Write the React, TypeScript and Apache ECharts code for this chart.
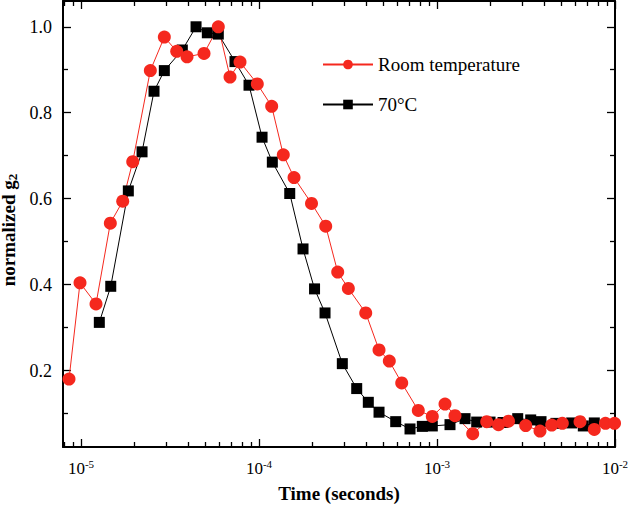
import React, { useEffect, useRef } from "react";
import * as echarts from "echarts";

const FONT = '"Liberation Serif", "Times New Roman", serif';

// Room temperature series
const roomTimes = [
  8.56e-6, 9.87e-6, 1.214e-5, 1.461e-5, 1.715e-5, 1.952e-5, 2.451e-5, 2.938e-5, 3.449e-5, 3.94e-5,
  4.909e-5, 5.906e-5, 6.872e-5, 7.822e-5, 9.78e-5, 1.178e-4, 1.369e-4, 1.573e-4, 1.972e-4, 2.37e-4,
  2.768e-4, 3.176e-4, 3.977e-4, 4.723e-4, 5.395e-4, 6.335e-4, 7.85e-4, 9.41e-4, 1.109e-3, 1.262e-3,
  1.587e-3, 1.902e-3, 2.215e-3, 2.522e-3, 3.15e-3, 3.79e-3, 4.41e-3, 5.06e-3, 6.36e-3, 7.65e-3,
  8.84e-3, 9.94e-3,
];
const roomValues = [
  0.18, 0.404, 0.355, 0.543, 0.594, 0.686, 0.898, 0.976, 0.943, 0.93,
  0.938, 1.0, 0.883, 0.918, 0.867, 0.815, 0.702, 0.649, 0.589, 0.536,
  0.429, 0.391, 0.334, 0.248, 0.222, 0.171, 0.107, 0.093, 0.122, 0.095,
  0.053, 0.081, 0.074, 0.082, 0.072, 0.059, 0.073, 0.077, 0.081, 0.063,
  0.077, 0.077,
];

// 70°C series
const hotTimes = [
  1.267e-5, 1.469e-5, 1.844e-5, 2.202e-5, 2.571e-5, 2.938e-5, 3.708e-5, 4.428e-5, 5.124e-5, 5.906e-5,
  7.33e-5, 8.786e-5, 1.04e-4, 1.188e-4, 1.488e-4, 1.767e-4, 2.051e-4, 2.349e-4, 2.938e-4, 3.539e-4,
  4.112e-4, 4.723e-4, 5.861e-4, 7.052e-4, 8.268e-4, 9.41e-4, 1.183e-3, 1.437e-3, 1.671e-3, 1.986e-3,
  2.349e-3, 2.841e-3, 3.361e-3, 3.84e-3, 4.661e-3, 5.711e-3, 6.636e-3, 7.65e-3,
];
const hotValues = [
  0.312, 0.396, 0.618, 0.709, 0.85, 0.898, 0.946, 1.0, 0.986, 0.983,
  0.919, 0.864, 0.743, 0.685, 0.612, 0.483, 0.39, 0.334, 0.216, 0.158,
  0.126, 0.103, 0.081, 0.064, 0.07, 0.071, 0.074, 0.088, 0.08, 0.08,
  0.079, 0.088, 0.085, 0.081, 0.077, 0.078, 0.071, 0.078,
];

const seriesNames = ["Room temperature", "70°C"];

const X_MIN = 7.92e-6;
const X_MAX = 1e-2;
const Y_MIN = 0.022;
const Y_MAX = 1.06;

const xMajorTicks = [1e-5, 1e-4, 1e-3, 1e-2];
const xMinorTicks = [
  8e-6, 9e-6,
  2e-5, 3e-5, 4e-5, 5e-5, 6e-5, 7e-5, 8e-5, 9e-5,
  2e-4, 3e-4, 4e-4, 5e-4, 6e-4, 7e-4, 8e-4, 9e-4,
  2e-3, 3e-3, 4e-3, 5e-3, 6e-3, 7e-3, 8e-3, 9e-3,
];
const yMajorTicks = [0.2, 0.4, 0.6, 0.8, 1.0];
const yMinorTicks = [0.1, 0.3, 0.5, 0.7, 0.9];

const App: React.FC = () => {
  const ref = useRef<HTMLDivElement>(null);

  useEffect(() => {
    if (!ref.current) return;
    const chart = echarts.init(ref.current, undefined, { renderer: "svg" });

    const lineBlack = { show: true, lineStyle: { color: "#000", width: 2 } };
    const noLine = { show: false };

    const xAxisDef = (
      position: "bottom" | "top",
      ticks: number[],
      len: number,
      showLine: boolean,
      showLabels: boolean
    ): any => ({
      type: "log",
      logBase: 10,
      min: X_MIN,
      max: X_MAX,
      position,
      splitLine: { show: false },
      axisLine: showLine ? lineBlack : noLine,
      axisTick: {
        show: true,
        inside: true,
        length: len,
        customValues: ticks,
        lineStyle: { color: "#000", width: 1.3 },
      },
      axisLabel: showLabels
        ? {
            show: true,
            customValues: xMajorTicks,
            margin: 11,
            formatter: (v: number) => {
              const e = Math.round(Math.log10(v));
              return "{b|10}{s|" + e + "}";
            },
            rich: {
              b: { fontFamily: FONT, fontSize: 17, lineHeight: 20, color: "#000" },
              s: { fontFamily: FONT, fontSize: 11, lineHeight: 12, verticalAlign: "top", color: "#000" },
            },
          }
        : { show: false },
    });

    const yAxisDef = (
      position: "left" | "right",
      ticks: number[],
      len: number,
      showLine: boolean,
      showLabels: boolean
    ): any => ({
      type: "value",
      min: Y_MIN,
      max: Y_MAX,
      position,
      splitLine: { show: false },
      axisLine: showLine ? lineBlack : noLine,
      axisTick: {
        show: true,
        inside: true,
        length: len,
        customValues: ticks,
        lineStyle: { color: "#000", width: 1.3 },
      },
      axisLabel: showLabels
        ? {
            show: true,
            customValues: yMajorTicks,
            margin: 11,
            fontFamily: FONT,
            fontSize: 18,
            color: "#000",
            formatter: (v: number) => v.toFixed(1),
          }
        : { show: false },
    });

    const xMain = xAxisDef("bottom", xMajorTicks, 8, true, true);
    xMain.name = "Time (seconds)";
    xMain.nameLocation = "middle";
    xMain.nameGap = 37;
    xMain.nameTextStyle = { fontFamily: FONT, fontSize: 19, fontWeight: "bold", color: "#000" };

    const yMain = yAxisDef("left", yMajorTicks, 8, true, true);
    yMain.name = "{n|normalized g}{sub|2}";
    yMain.nameLocation = "middle";
    yMain.nameGap = 38;
    yMain.nameTextStyle = {
      fontFamily: FONT,
      fontSize: 19,
      fontWeight: "bold",
      color: "#000",
      padding: [0, 12, 0, 0],
      rich: {
        n: { fontFamily: FONT, fontSize: 19, fontWeight: "bold", lineHeight: 20, color: "#000" },
        sub: { fontFamily: FONT, fontSize: 13, fontWeight: "bold", lineHeight: 12, verticalAlign: "bottom", color: "#000" },
      },
    };

    const option: any = {
      animation: false,
      backgroundColor: "#fff",
      grid: { left: 63, right: 15, top: 1, bottom: 61, containLabel: false, outerBoundsMode: "none" },
      legend: {
        orient: "vertical",
        left: 317,
        top: 50,
        itemWidth: 50,
        itemHeight: 12,
        itemGap: 21,
        data: seriesNames,
        textStyle: { fontFamily: FONT, fontSize: 19, color: "#000" },
      },
      xAxis: [
        xMain,
        xAxisDef("bottom", xMinorTicks, 5, false, false),
        xAxisDef("top", xMajorTicks, 8, true, false),
        xAxisDef("top", xMinorTicks, 5, false, false),
      ],
      yAxis: [
        yMain,
        yAxisDef("left", yMinorTicks, 5, false, false),
        yAxisDef("right", yMajorTicks, 8, true, false),
        yAxisDef("right", yMinorTicks, 5, false, false),
      ],
      series: [
        {
          name: seriesNames[1],
          type: "line",
          xAxisIndex: 0,
          yAxisIndex: 0,
          data: hotTimes.map((t, i) => [t, hotValues[i]]),
          symbol: "rect",
          symbolSize: 11,
          itemStyle: { color: "#000" },
          lineStyle: { color: "#000", width: 1 },
        },
        {
          name: seriesNames[0],
          type: "line",
          xAxisIndex: 0,
          yAxisIndex: 0,
          data: roomTimes.map((t, i) => [t, roomValues[i]]),
          symbol: "circle",
          symbolSize: 13,
          itemStyle: { color: "#f5281e" },
          lineStyle: { color: "#f5281e", width: 1 },
        },
      ],
    };

    chart.setOption(option);
    return () => chart.dispose();
  }, []);

  return (
    <div
      ref={ref}
      style={{ position: "fixed", left: 0, top: 0, width: 630, height: 508, background: "#fff" }}
    />
  );
};

export default App;
